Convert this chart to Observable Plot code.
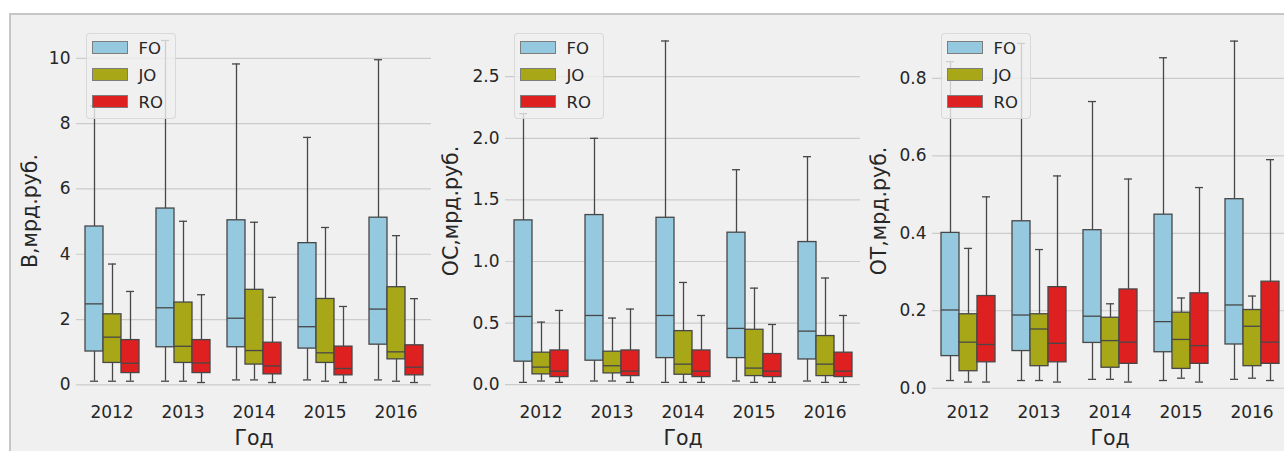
<!DOCTYPE html>
<html><head><meta charset="utf-8">
<script src="https://cdn.jsdelivr.net/npm/d3@7"></script>
<script src="https://cdn.jsdelivr.net/npm/@observablehq/plot@0.6"></script>
<style>
html,body{margin:0;padding:0;background:#fff;width:1284px;height:451px;overflow:hidden;position:relative;font-family:"DejaVu Sans",sans-serif;}
#fig{position:absolute;left:9px;top:13px;width:1290px;height:450px;background:#f0f0f0;border-top:2px solid #c6c6c6;border-left:2px solid #c6c6c6;box-sizing:border-box;}
.panel{position:absolute;top:13px;}
.panel svg{overflow:visible;}
g[aria-label$="axis label"]{font-size:20.5px;}
.legend{position:absolute;top:32.5px;width:90px;height:86px;box-sizing:border-box;background:rgba(240,240,240,0.8);border:1px solid rgba(210,210,210,0.8);border-radius:4px;}
.legend .item{position:absolute;left:5px;height:14px;}
.legend .sw{position:absolute;left:0;top:0;width:36px;height:13px;border:1px solid #7d7d7d;box-sizing:border-box;}
.legend .lab{position:absolute;left:47px;top:-2px;font-size:16.5px;line-height:20px;color:#262626;}
</style></head>
<body>
<div id="fig"></div>
<script>
const years = ["2012", "2013", "2014", "2015", "2016"];
const groups = ["FO", "JO", "RO"];
const colors = ["#94c9df", "#a7a718", "#df2020"];
const xLabel = "Год";
const yLabels = ["В,мрд.руб.", "ОС,мрд.руб.", "ОТ,мрд.руб."];

// each entry: [lower whisker, Q1, median, Q3, upper whisker] for 2012..2016
const B_FO = [[0.11,1.02,2.48,4.85,8.55],[0.11,1.15,2.36,5.40,10.55],[0.15,1.15,2.04,5.04,9.83],[0.15,1.11,1.78,4.34,7.58],[0.15,1.23,2.32,5.12,9.96]];
const B_JO = [[0.11,0.67,1.46,2.16,3.70],[0.11,0.67,1.18,2.52,5.01],[0.15,0.62,1.05,2.91,4.98],[0.11,0.67,0.98,2.63,4.82],[0.11,0.78,1.01,2.99,4.57]];
const B_RO = [[0.11,0.36,0.66,1.37,2.86],[0.07,0.36,0.67,1.37,2.76],[0.07,0.32,0.58,1.29,2.68],[0.07,0.29,0.50,1.17,2.40],[0.07,0.29,0.54,1.21,2.64]];

const OC_FO = [[0.019,0.187,0.554,1.334,2.20],[0.030,0.195,0.562,1.377,2.00],[0.019,0.216,0.562,1.355,2.79],[0.030,0.216,0.457,1.234,1.745],[0.030,0.205,0.435,1.158,1.851]];
const OC_JO = [[0.030,0.084,0.143,0.260,0.508],[0.030,0.092,0.154,0.268,0.541],[0.019,0.081,0.167,0.435,0.830],[0.019,0.070,0.135,0.446,0.784],[0.019,0.070,0.167,0.395,0.866]];
const OC_RO = [[0.019,0.062,0.110,0.278,0.603],[0.019,0.070,0.110,0.278,0.614],[0.019,0.062,0.110,0.278,0.562],[0.019,0.062,0.110,0.249,0.489],[0.019,0.062,0.110,0.260,0.562]];

const OT_FO = [[0.020,0.083,0.202,0.401,0.843],[0.020,0.096,0.189,0.431,0.890],[0.023,0.117,0.186,0.408,0.740],[0.020,0.093,0.172,0.448,0.853],[0.023,0.113,0.215,0.488,0.896]];
const OT_JO = [[0.016,0.044,0.119,0.191,0.361],[0.020,0.057,0.153,0.191,0.358],[0.023,0.053,0.123,0.182,0.218],[0.026,0.050,0.126,0.195,0.233],[0.026,0.057,0.160,0.202,0.238]];
const OT_RO = [[0.016,0.067,0.113,0.238,0.494],[0.016,0.067,0.116,0.261,0.548],[0.016,0.063,0.119,0.255,0.540],[0.016,0.063,0.110,0.245,0.518],[0.020,0.063,0.119,0.275,0.590]];

const yDomains = [[-0.45, 11.1], [-0.12, 2.94], [-0.029, 0.944]];
const yTicks = [[0, 2, 4, 6, 8, 10], [0, 0.5, 1, 1.5, 2, 2.5], [0, 0.2, 0.4, 0.6, 0.8]];
const yFormats = [d3.format("d"), d3.format(".1f"), d3.format(".1f")];

function rows(series) {
  const out = [];
  series.forEach((s, gi) => s.forEach((v, yi) => out.push({
    year: years[yi], hue: groups[gi], low: v[0], q1: v[1], med: v[2], q3: v[3], high: v[4]
  })));
  return out;
}
const panelsData = [rows([B_FO, B_JO, B_RO]), rows([OC_FO, OC_JO, OC_RO]), rows([OT_FO, OT_JO, OT_RO])];

const layout = [
  {left: 0, width: 436, ml: 76, mr: 5, lo: 54},
  {left: 436, width: 428, ml: 68, mr: 4, lo: 62},
  {left: 864, width: 430, ml: 67, mr: 7, lo: 61}
];
const edge = "#474747";

layout.forEach((L, i) => {
  const data = panelsData[i];
  const chart = Plot.plot({
    width: L.width,
    height: 438,
    marginTop: 9,
    marginBottom: 52,
    marginLeft: L.ml,
    marginRight: L.mr,
    style: {background: "transparent", color: "#262626", fontFamily: "DejaVu Sans, sans-serif", fontSize: "17px", overflow: "visible", maxWidth: "none"},
    fx: {domain: years, padding: 0},
    x: {domain: groups, paddingInner: 0, paddingOuter: 0.375, axis: null},
    y: {domain: yDomains[i]},
    color: {domain: groups, range: colors},
    marks: [
      Plot.gridY(yTicks[i], {stroke: "#cbcbcb", strokeOpacity: 1, strokeWidth: 1.2}),
      Plot.axisY({ticks: yTicks[i], tickFormat: yFormats[i], tickSize: 0, tickPadding: 6, fontSize: 17, label: yLabels[i], labelAnchor: "center", labelOffset: L.lo, labelArrow: "none"}),
      Plot.axisFx({anchor: "bottom", tickSize: 0, tickPadding: 6, fontSize: 17, label: xLabel, labelAnchor: "center", labelOffset: 45, labelArrow: "none"}),
      Plot.ruleX(data, {fx: "year", x: "hue", y1: "low", y2: "q1", stroke: edge, strokeWidth: 1.3}),
      Plot.ruleX(data, {fx: "year", x: "hue", y1: "q3", y2: "high", stroke: edge, strokeWidth: 1.3}),
      Plot.tickY(data, {fx: "year", x: "hue", y: "low", stroke: edge, strokeWidth: 1.3, insetLeft: 5, insetRight: 5}),
      Plot.tickY(data, {fx: "year", x: "hue", y: "high", stroke: edge, strokeWidth: 1.3, insetLeft: 5, insetRight: 5}),
      Plot.barY(data, {fx: "year", x: "hue", y1: "q1", y2: "q3", fill: "hue", stroke: edge, strokeWidth: 1.3}),
      Plot.tickY(data, {fx: "year", x: "hue", y: "med", stroke: edge, strokeWidth: 1.3})
    ]
  });
  const wrap = document.createElement("div");
  wrap.className = "panel";
  wrap.style.left = L.left + "px";
  wrap.appendChild(chart);
  document.body.appendChild(wrap);

  const leg = document.createElement("div");
  leg.className = "legend";
  leg.style.left = (L.left + L.ml + 9.5) + "px";
  groups.forEach((g, k) => {
    const it = document.createElement("div");
    it.className = "item";
    it.style.top = (7 + k * 27.3) + "px";
    const sw = document.createElement("div");
    sw.className = "sw";
    sw.style.background = colors[k];
    const lab = document.createElement("div");
    lab.className = "lab";
    lab.textContent = g;
    it.appendChild(sw);
    it.appendChild(lab);
    leg.appendChild(it);
  });
  document.body.appendChild(leg);
});
</script>
</body></html>
